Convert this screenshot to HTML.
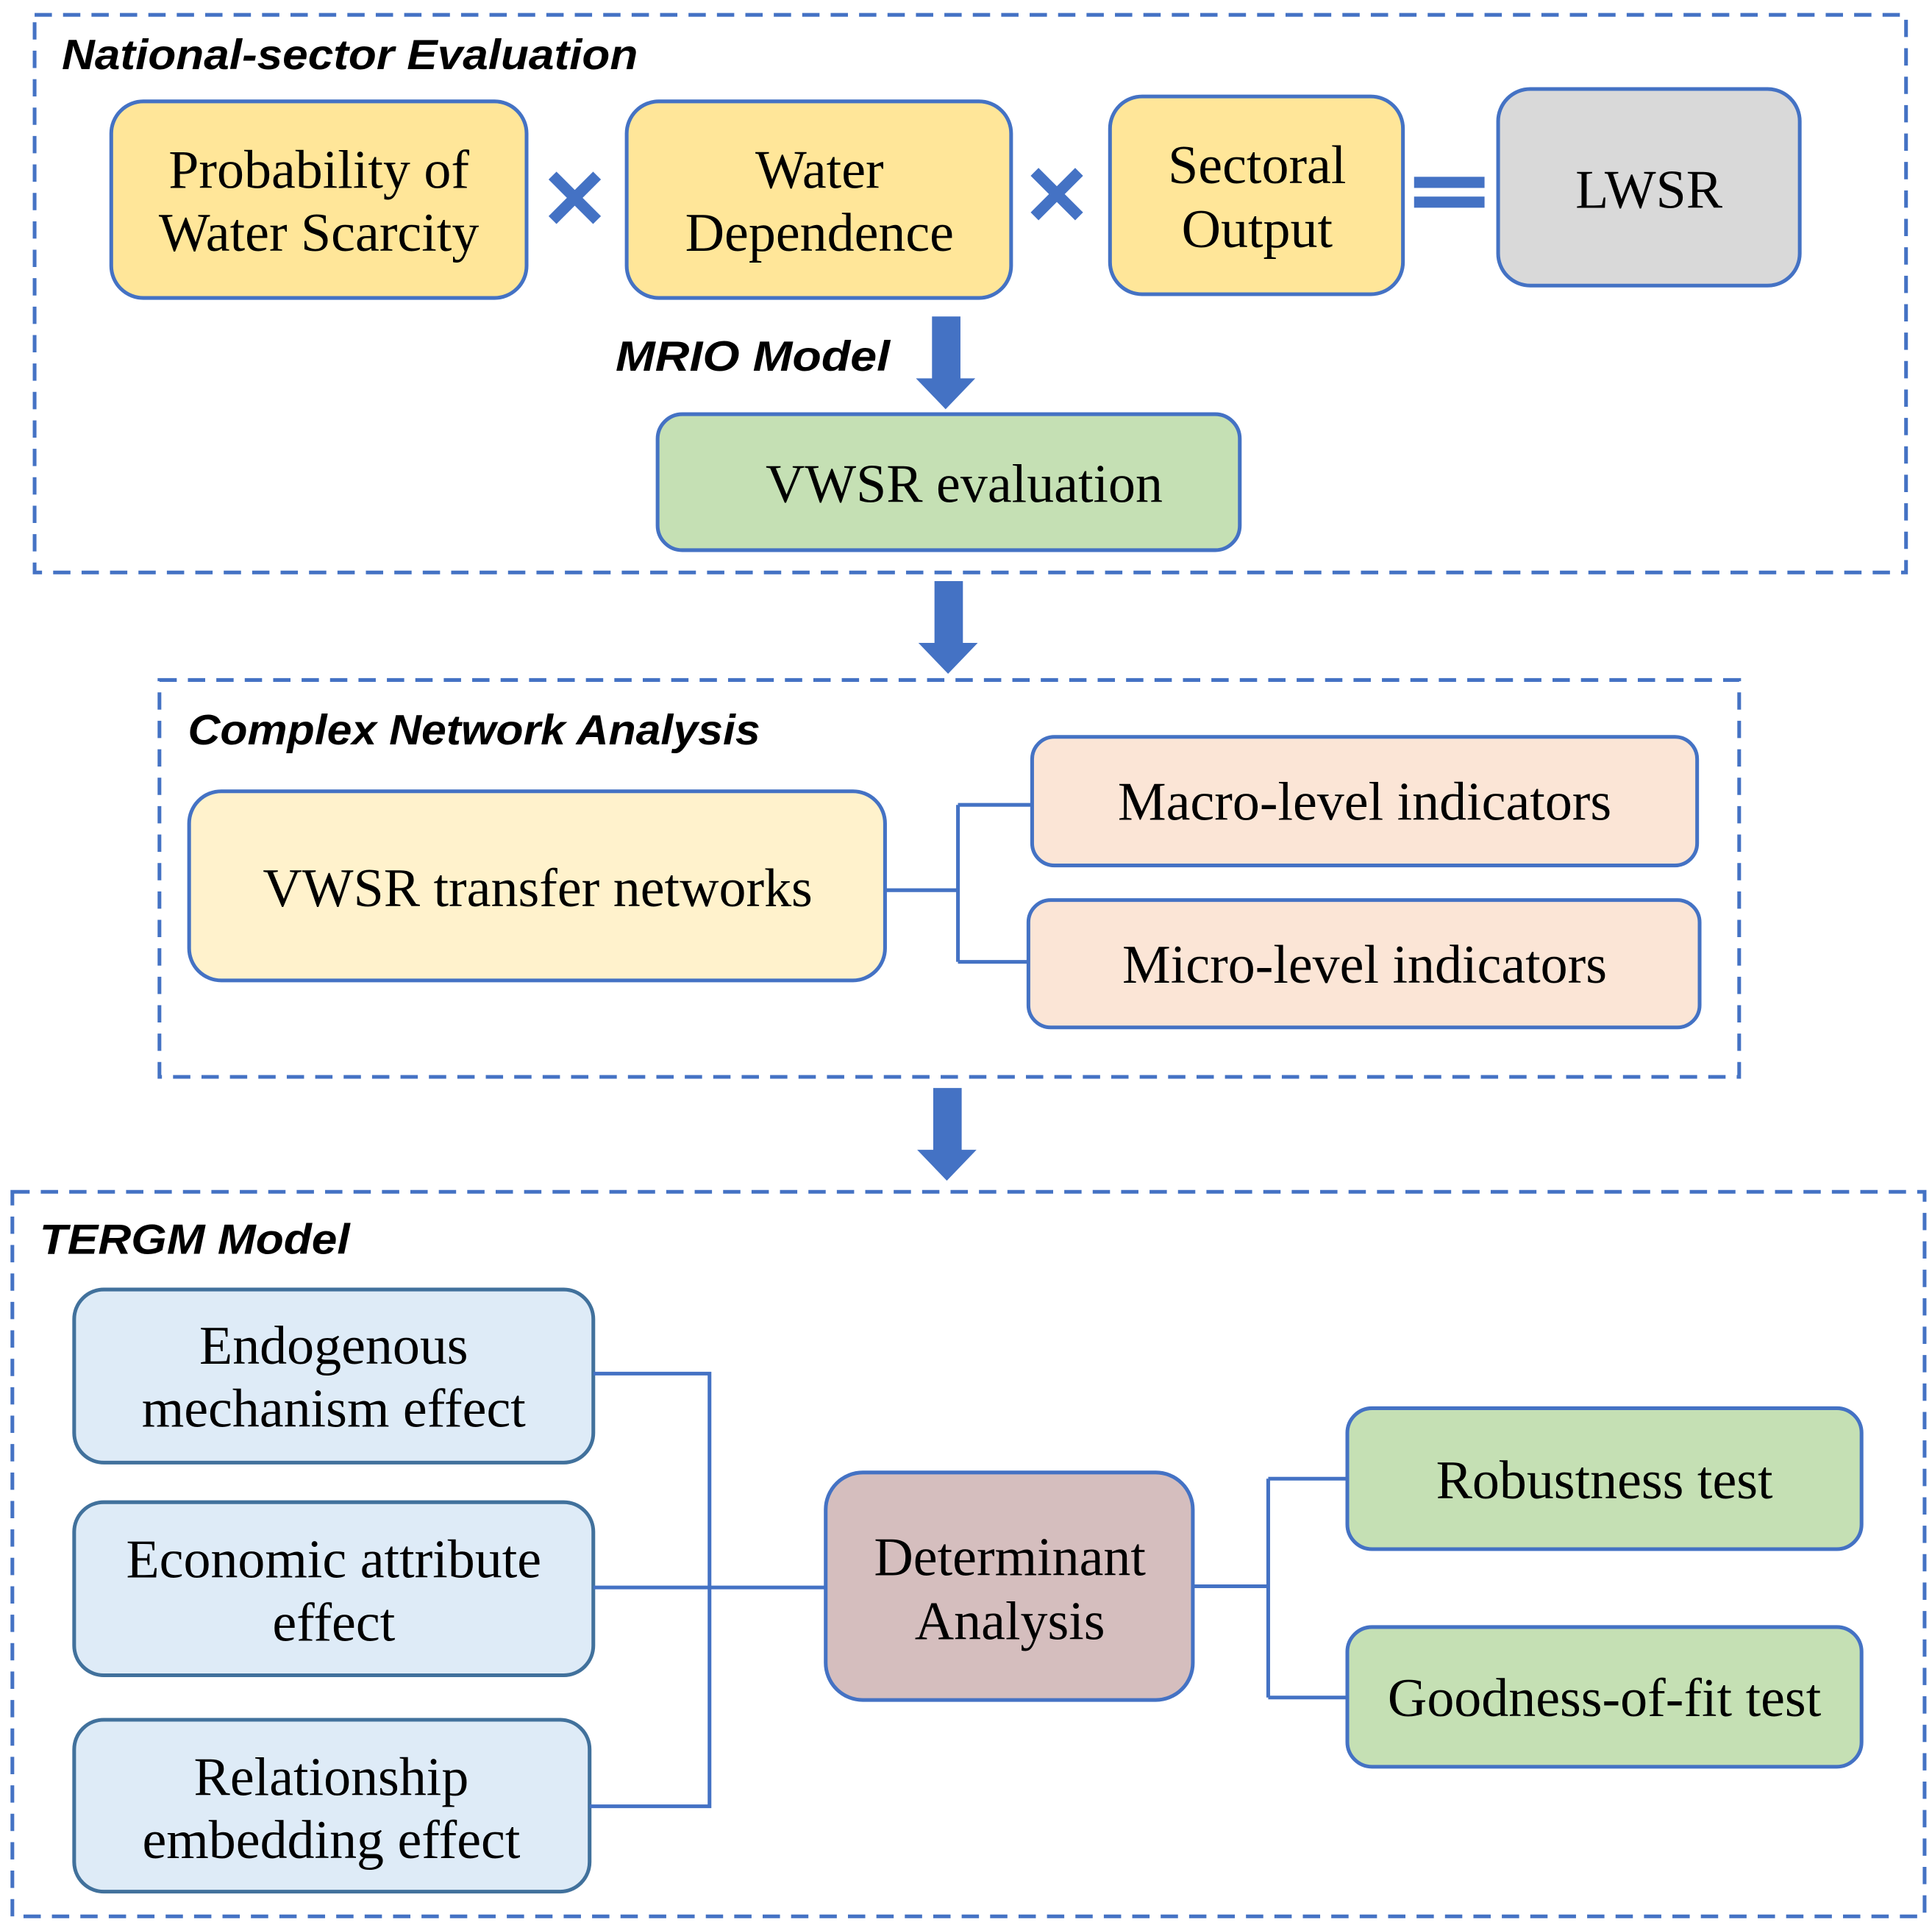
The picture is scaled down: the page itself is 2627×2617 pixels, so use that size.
<!DOCTYPE html>
<html><head><meta charset="utf-8"><style>
html,body{margin:0;padding:0;background:#fff;}
svg{display:block;}
.t{font-family:"Liberation Serif",serif;font-size:44px;fill:#000;text-anchor:middle;}
.h{font-family:"Liberation Sans",sans-serif;font-size:34px;font-weight:bold;font-style:italic;fill:#000;}
.d{fill:none;stroke:#4472C4;stroke-width:3;stroke-dasharray:14,9;}
.c{fill:none;stroke:#4472C4;stroke-width:3;}
</style></head><body>
<svg width="2627" height="2617" viewBox="0 0 1563 1557" preserveAspectRatio="none" xmlns="http://www.w3.org/2000/svg">
<rect x="28" y="12" width="1514" height="451" class="d"/>
<text x="50" y="56" class="h" textLength="466" lengthAdjust="spacingAndGlyphs">National-sector Evaluation</text>
<rect x="90" y="82" width="336" height="159" rx="26" fill="#FFE699" stroke="#4472C4" stroke-width="3"/>
<text x="258" y="152" class="t">Probability of</text><text x="258" y="203" class="t">Water Scarcity</text>
<rect x="507" y="82" width="311" height="159" rx="26" fill="#FFE699" stroke="#4472C4" stroke-width="3"/>
<text x="663" y="152" class="t">Water</text><text x="663" y="203" class="t">Dependence</text>
<rect x="898" y="78" width="237" height="160" rx="26" fill="#FFE699" stroke="#4472C4" stroke-width="3"/>
<text x="1017" y="148" class="t">Sectoral</text><text x="1017" y="200" class="t">Output</text>
<rect x="1212" y="72" width="244" height="159" rx="26" fill="#D9D9D9" stroke="#4472C4" stroke-width="3"/>
<text x="1334" y="168" class="t">LWSR</text>
<path d="M447 142 L483 178 M483 142 L447 178" stroke="#4472C4" stroke-width="9"/>
<path d="M837 139 L873 175 M873 139 L837 175" stroke="#4472C4" stroke-width="9"/>
<rect x="1144" y="143" width="57" height="9" fill="#4472C4"/><rect x="1144" y="159" width="57" height="9" fill="#4472C4"/>
<text x="498" y="300" class="h" textLength="222" lengthAdjust="spacingAndGlyphs">MRIO Model</text>
<path d="M754 256 H777 V306 H789 L765 331 L741 306 H754 Z" fill="#4472C4"/>
<rect x="532" y="335" width="471" height="110" rx="20" fill="#C5E0B4" stroke="#4472C4" stroke-width="3"/>
<text x="780" y="406" class="t">VWSR evaluation</text>
<path d="M756 470 H779 V520 H791 L767 545 L743 520 H756 Z" fill="#4472C4"/>
<rect x="129" y="550" width="1278" height="321" class="d"/>
<text x="152" y="602" class="h" textLength="463" lengthAdjust="spacingAndGlyphs">Complex Network Analysis</text>
<rect x="153" y="640" width="563" height="153" rx="26" fill="#FFF2CC" stroke="#4472C4" stroke-width="3"/>
<text x="435" y="733" class="t">VWSR transfer networks</text>
<rect x="835" y="596" width="538" height="104" rx="18" fill="#FBE5D6" stroke="#4472C4" stroke-width="3"/>
<text x="1104" y="663" class="t">Macro-level indicators</text>
<rect x="832" y="728" width="543" height="103" rx="18" fill="#FBE5D6" stroke="#4472C4" stroke-width="3"/>
<text x="1104" y="795" class="t">Micro-level indicators</text>
<path d="M716 720 H775 M775 651 V778 M775 651 H835 M775 778 H832" class="c"/>
<path d="M755 880 H778 V930 H790 L766 955 L742 930 H755 Z" fill="#4472C4"/>
<rect x="10" y="964" width="1547" height="586" class="d"/>
<text x="32" y="1014" class="h" textLength="251" lengthAdjust="spacingAndGlyphs">TERGM Model</text>
<rect x="60" y="1043" width="420" height="140" rx="24" fill="#DEEBF7" stroke="#41719C" stroke-width="3"/>
<text x="270" y="1103" class="t">Endogenous</text><text x="270" y="1154" class="t">mechanism effect</text>
<rect x="60" y="1215" width="420" height="140" rx="24" fill="#DEEBF7" stroke="#41719C" stroke-width="3"/>
<text x="270" y="1276" class="t">Economic attribute</text><text x="270" y="1327" class="t">effect</text>
<rect x="60" y="1391" width="417" height="139" rx="24" fill="#DEEBF7" stroke="#41719C" stroke-width="3"/>
<text x="268" y="1452" class="t">Relationship</text><text x="268" y="1503" class="t">embedding effect</text>
<path d="M480 1111 H574 V1461 H477 M480 1284 H668" class="c"/>
<rect x="668" y="1191" width="297" height="184" rx="30" fill="#D5BEBE" stroke="#4472C4" stroke-width="3"/>
<text x="817" y="1274" class="t">Determinant</text><text x="817" y="1326" class="t">Analysis</text>
<path d="M965 1283 H1026 M1026 1196 V1373 M1026 1196 H1091 M1026 1373 H1091" class="c"/>
<rect x="1090" y="1139" width="416" height="114" rx="20" fill="#C5E0B4" stroke="#4472C4" stroke-width="3"/>
<text x="1298" y="1212" class="t">Robustness test</text>
<rect x="1090" y="1316" width="416" height="113" rx="20" fill="#C5E0B4" stroke="#4472C4" stroke-width="3"/>
<text x="1298" y="1388" class="t">Goodness-of-fit test</text>
</svg>
</body></html>
